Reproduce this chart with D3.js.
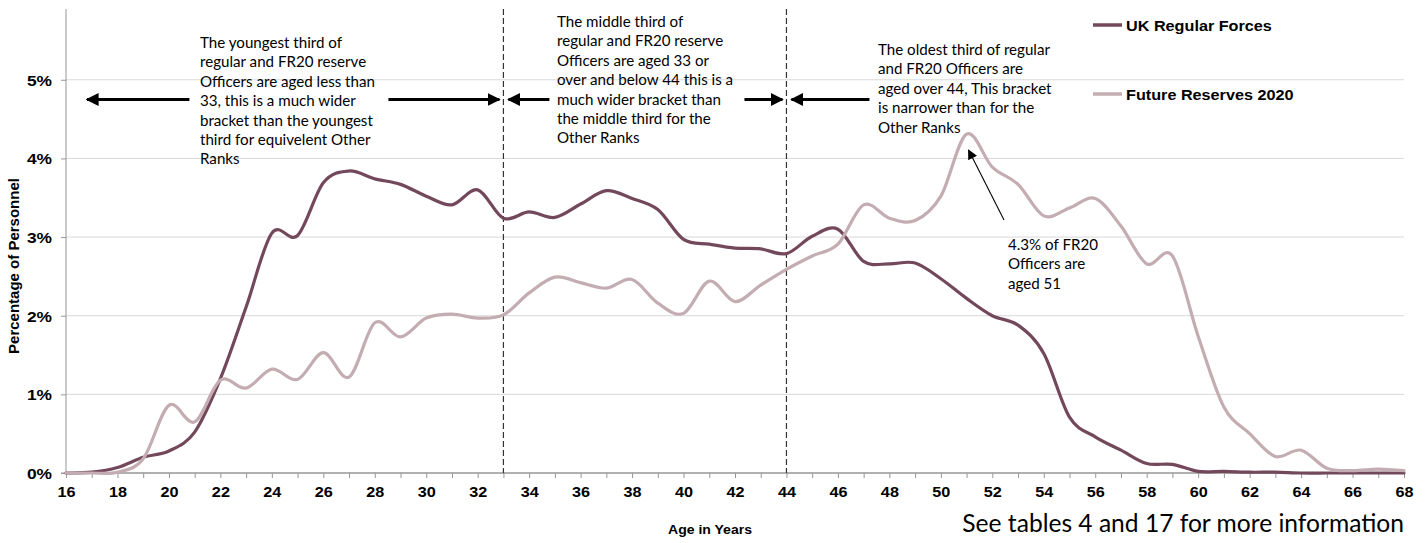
<!DOCTYPE html>
<html>
<head>
<meta charset="utf-8">
<script src="https://cdn.jsdelivr.net/npm/d3@7"></script>
<style>
  html, body { margin: 0; padding: 0; background: #fff; }
  svg { display: block; }
</style>
</head>
<body>
<svg id="chart" width="1426" height="543"></svg>
<script>
// ---------- DATA ----------
const ages = [16,17,18,19,20,21,22,23,24,25,26,27,28,29,30,31,32,33,34,35,36,37,38,39,40,41,42,
  43,44,45,46,47,48,49,50,51,52,53,54,55,56,57,58,59,60,61,62,63,64,65,66,67,68];
const regularForces = [0,0.01,0.07,0.2,0.28,0.52,1.2,2.11,3.05,3.02,3.69,3.84,3.74,3.67,3.52,3.41,3.6,
  3.24,3.32,3.25,3.42,3.59,3.49,3.35,2.97,2.91,2.86,2.85,2.79,3.01,3.1,2.69,2.66,2.67,2.47,2.22,2.0,
  1.88,1.52,0.71,0.46,0.29,0.12,0.11,0.02,0.02,0.01,0.01,0,0,0,0,0];
const futureReserves = [0,0,0.01,0.18,0.86,0.65,1.18,1.08,1.32,1.19,1.53,1.22,1.91,1.73,1.97,2.02,1.97,
  2.01,2.29,2.49,2.42,2.35,2.46,2.16,2.03,2.44,2.18,2.39,2.59,2.76,2.91,3.41,3.24,3.21,3.52,4.31,3.89,
  3.67,3.27,3.37,3.49,3.14,2.66,2.76,1.74,0.84,0.5,0.21,0.29,0.06,0.03,0.05,0.03];
const seriesNames = ["UK Regular Forces", "Future Reserves 2020"];
const xTickLabels = [16,18,20,22,24,26,28,30,32,34,36,38,40,42,44,46,48,50,52,54,56,58,60,62,64,66,68];
const yTickValues = [0,1,2,3,4,5];
const bracketAges = [33, 44];
const peakAge = 51;
const note1 = ["The youngest third of","regular and FR20 reserve","Officers are aged less than",
  "33, this is a much wider","bracket than the youngest","third for equivelent Other","Ranks"];
const note2 = ["The middle third of","regular and FR20 reserve","Officers are aged 33 or",
  "over and below 44 this is a","much wider bracket than","the middle third for the","Other Ranks"];
const note3 = ["The oldest third of regular","and FR20 Officers are","aged over 44, This bracket",
  "is narrower than for the","Other Ranks"];
const note4 = ["4.3% of FR20","Officers are","aged 51"];
const footerText = "See tables 4 and 17 for more information";

// ---------- SETUP ----------
const svg = d3.select("#chart");
const W = 1426, H = 543;
svg.append("rect").attr("width", W).attr("height", H).attr("fill", "#fff");

const x = d3.scaleLinear().domain([16, 68]).range([66, 1404]);
const y = d3.scaleLinear().domain([0, 5.9]).range([473, 9]);

const colDark = "#72485a";
const colLight = "#c3adb2";
const fontArial = "'Liberation Sans', Arial, Helvetica, sans-serif";
const fontCal = "Lato, 'Open Sans', sans-serif";
const SX = 1.08;

// gridlines
svg.append("g").selectAll("line").data(yTickValues.filter(d => d > 0)).join("line")
  .attr("x1", x(16)).attr("x2", x(68))
  .attr("y1", d => y(d)).attr("y2", d => y(d))
  .attr("stroke", "#d9d9d9").attr("stroke-width", 1);

// y axis
const yAxis = d3.axisLeft(y).tickValues(yTickValues).tickSize(5).tickFormat(d => d + "%");
const gy = svg.append("g").attr("transform", `translate(${x(16)},0)`).call(yAxis);
gy.select(".domain").attr("stroke", "#969696").attr("d", `M-5,${y(0)}H0V${y(5.9)}`);
gy.selectAll(".tick line").attr("stroke", "#969696");
gy.selectAll(".tick text").remove();
gy.selectAll(".tick").append("text")
  .attr("transform", `translate(-14,5.5) scale(1.12,1)`)
  .attr("text-anchor", "end").attr("fill", "#000")
  .style("font-family", fontArial).style("font-weight", "bold").style("font-size", "15.5px")
  .text(d => d + "%");

// x axis
const xAxis = d3.axisBottom(x).tickValues(ages).tickSize(5).tickFormat("");
const gx = svg.append("g").attr("transform", `translate(0,${y(0)})`).call(xAxis);
gx.select(".domain").attr("stroke", "#969696").attr("stroke-width", 1.5).attr("d", `M${x(16)},0H${x(68)}`);
gx.selectAll(".tick line").attr("stroke", "#969696");
gx.selectAll(".tick").filter(d => xTickLabels.includes(d)).append("text")
  .attr("transform", `translate(0,24) scale(${SX},1)`)
  .attr("text-anchor", "middle").attr("fill", "#000")
  .style("font-family", fontArial).style("font-weight", "bold").style("font-size", "15px")
  .text(d => d);

// bracket dashed lines
svg.append("g").selectAll("line").data(bracketAges).join("line")
  .attr("x1", d => x(d)).attr("x2", d => x(d))
  .attr("y1", y(5.9)).attr("y2", y(0))
  .attr("stroke", "#333").attr("stroke-width", 1.2).attr("stroke-dasharray", "6,3");

// lines
const line = d3.line().x(d => x(d[0])).y(d => y(d[1])).curve(d3.curveCardinal.tension(0));
const seriesData = [regularForces, futureReserves];
const seriesColors = [colDark, colLight];
seriesData.forEach((vals, i) => {
  svg.append("path")
    .datum(ages.map((a, j) => [a, vals[j]]))
    .attr("fill", "none").attr("stroke", seriesColors[i])
    .attr("stroke-width", 3.2).attr("stroke-linejoin", "round").attr("stroke-linecap", "round")
    .attr("d", line);
});

// axis titles
svg.append("text")
  .attr("transform", `translate(710,534) scale(${SX},1)`)
  .attr("text-anchor", "middle")
  .style("font-family", fontArial).style("font-weight", "bold").style("font-size", "13px")
  .text("Age in Years");
svg.append("text")
  .attr("transform", `translate(19,266) rotate(-90)`)
  .attr("text-anchor", "middle")
  .style("font-family", fontArial).style("font-weight", "bold").style("font-size", "15px")
  .text("Percentage of Personnel");

// legend
const legY = [25, 94];
seriesNames.forEach((name, i) => {
  svg.append("line").attr("x1", 1093).attr("x2", 1122).attr("y1", legY[i]).attr("y2", legY[i])
    .attr("stroke", seriesColors[i]).attr("stroke-width", 3.5);
  svg.append("text")
    .attr("transform", `translate(1126,${legY[i] + 5.5}) scale(${SX},1)`)
    .style("font-family", fontArial).style("font-weight", "bold").style("font-size", "15px")
    .text(name);
});

// arrow markers
const defs = svg.append("defs");
defs.append("marker").attr("id", "headBig").attr("viewBox", "0 0 10 10")
  .attr("refX", 9).attr("refY", 5).attr("markerWidth", 4.3).attr("markerHeight", 4.3)
  .attr("markerUnits", "strokeWidth").attr("orient", "auto")
  .append("path").attr("d", "M0,0L10,5L0,10z").attr("fill", "#000");
defs.append("marker").attr("id", "headSmall").attr("viewBox", "0 0 10 10")
  .attr("refX", 9).attr("refY", 5).attr("markerWidth", 9).attr("markerHeight", 9)
  .attr("markerUnits", "strokeWidth").attr("orient", "auto")
  .append("path").attr("d", "M0,0L10,5L0,10z").attr("fill", "#000");

const arrowY = 99.5;
const arrows = [
  [x(33) - 314, x(16) + 21],
  [x(33) - 115, x(33) - 4],
  [x(33) + 46, x(33) + 5],
  [x(44) - 42, x(44) - 4],
  [x(44) + 83, x(44) + 5]
];
svg.append("g").selectAll("line").data(arrows).join("line")
  .attr("x1", d => d[0]).attr("x2", d => d[1])
  .attr("y1", arrowY).attr("y2", arrowY)
  .attr("stroke", "#000").attr("stroke-width", 3)
  .attr("marker-end", "url(#headBig)");

// pointer to peak
svg.append("line")
  .attr("x1", 1004).attr("y1", 220)
  .attr("x2", x(peakAge) + 2).attr("y2", y(4.31) + 16)
  .attr("stroke", "#000").attr("stroke-width", 1.1)
  .attr("marker-end", "url(#headSmall)");

// notes
function note(lines, x0, y0, size) {
  const t = svg.append("text")
    .style("font-family", fontCal).style("font-size", size + "px").attr("fill", "#000");
  lines.forEach((s, i) => {
    t.append("tspan").attr("x", x0).attr("y", y0 + i * 19.4).text(s);
  });
  return t;
}
// calibrate annotation font size against the reference width of one line
const probe = svg.append("text").style("font-family", fontCal).style("font-size", "15px")
  .text("Officers are aged less than");
const k = 175 / probe.node().getComputedTextLength();
probe.remove();
const noteSize = 15 * k;
note(note1, 200, 48, noteSize);
note(note2, 557, 27, noteSize);
note(note3, 878, 55, noteSize);
note(note4, 1008, 250, noteSize);

// footer
const ft = svg.append("text").attr("x", 1404).attr("y", 532).attr("text-anchor", "end")
  .style("font-family", fontCal).style("font-size", "20px").text(footerText);
const fk = 442 / ft.node().getComputedTextLength();
ft.style("font-size", (20 * fk) + "px");
</script>
</body>
</html>
